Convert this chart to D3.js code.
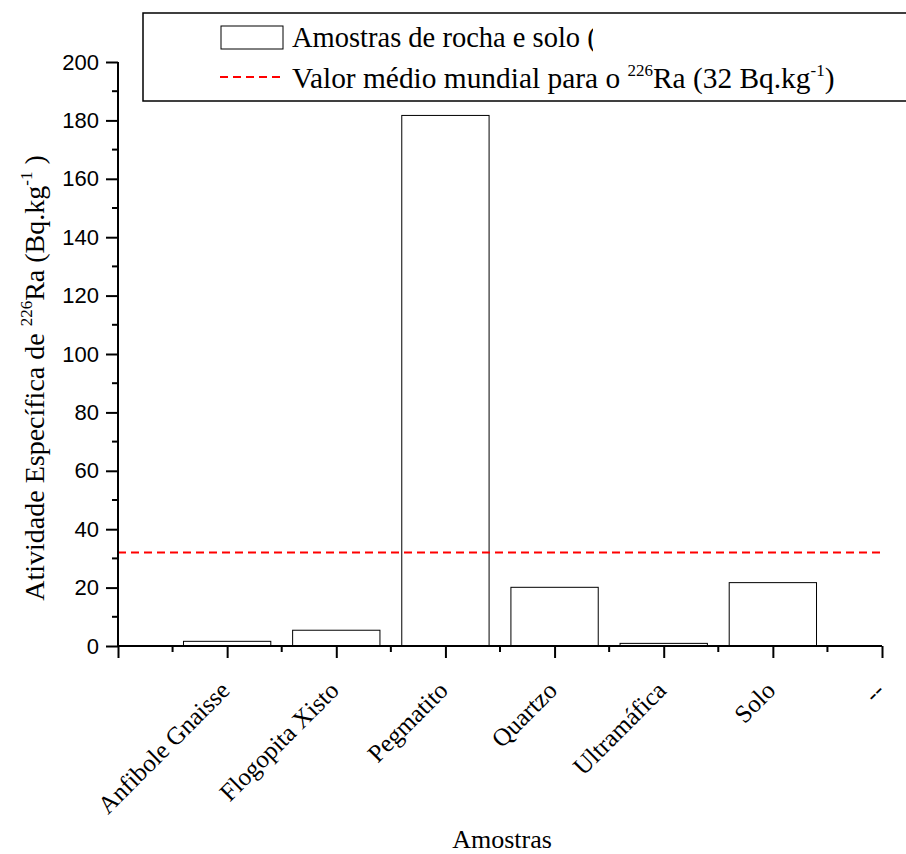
<!DOCTYPE html>
<html>
<head>
<meta charset="utf-8">
<script src="https://cdn.jsdelivr.net/npm/d3@7/dist/d3.min.js"></script>
<style>
  html, body { margin: 0; padding: 0; background: #fff; }
  svg { display: block; }
</style>
</head>
<body>
<svg id="chart" width="906" height="854"></svg>
<script>
// Sample names and their 226Ra specific activity (Bq/kg)
const samples = ["Anfibole Gnaisse", "Flogopita Xisto", "Pegmatito", "Quartzo", "Ultramáfica", "Solo"];
const activity = [1.6, 5.4, 181.7, 20.1, 0.9, 21.7];
// Category axis labels (last slot is an empty placeholder)
const xTickLabels = ["Anfibole Gnaisse", "Flogopita Xisto", "Pegmatito", "Quartzo", "Ultramáfica", "Solo", "--"];
// Y axis ticks
const yMajorTicks = [0, 20, 40, 60, 80, 100, 120, 140, 160, 180, 200];
const yMinorTicks = [10, 30, 50, 70, 90, 110, 130, 150, 170, 190];
// World average reference for 226Ra
const worldAverage = [32];

const SERIF = "'Liberation Serif', 'Times New Roman', serif";
const SANS = "'Liberation Sans', Arial, sans-serif";

const svg = d3.select("#chart");
const plot = { left: 118, right: 882, top: 62, bottom: 646 };

const x = d3.scaleLinear().domain([0, xTickLabels.length]).range([plot.left, plot.right]);
const y = d3.scaleLinear().domain([0, 200]).range([plot.bottom, plot.top]);
const barWidth = 0.8;

// Bars
svg.append("g")
  .selectAll("rect")
  .data(activity)
  .join("rect")
  .attr("x", (d, i) => x(i + 1 - barWidth / 2))
  .attr("width", x(barWidth) - x(0))
  .attr("y", d => y(d))
  .attr("height", d => y(0) - y(d))
  .attr("fill", "#fff")
  .attr("stroke", "#000")
  .attr("stroke-width", 1);

// World average dashed line
svg.append("g")
  .selectAll("line")
  .data(worldAverage)
  .join("line")
  .attr("x1", plot.left).attr("x2", plot.right)
  .attr("y1", d => y(d)).attr("y2", d => y(d))
  .attr("stroke", "#ff0000")
  .attr("stroke-width", 2)
  .attr("stroke-dasharray", "8,5");

// Y axis
const yAxis = svg.append("g").attr("transform", `translate(${plot.left},0)`);
yAxis.call(d3.axisLeft(y).tickValues(yMajorTicks).tickSize(12).tickPadding(7).tickFormat(d3.format("d")));
yAxis.append("g").selectAll("line").data(yMinorTicks).join("line")
  .attr("x1", -6).attr("x2", 0).attr("y1", d => y(d)).attr("y2", d => y(d))
  .attr("stroke", "#000").attr("stroke-width", 2);
yAxis.select(".domain").attr("d", `M0,${plot.bottom}V${plot.top}`).attr("stroke-width", 2);
yAxis.selectAll(".tick line").attr("stroke-width", 2);
yAxis.selectAll(".tick text").attr("font-family", SANS).attr("font-size", 22).attr("fill", "#000");

// X axis
const xMajor = d3.range(0, xTickLabels.length + 1);
const xMinor = d3.range(0, xTickLabels.length).map(i => i + 0.5);
const xAxis = svg.append("g").attr("transform", `translate(0,${plot.bottom})`);
xAxis.call(d3.axisBottom(x).tickValues(xMajor).tickSize(12).tickFormat(""));
xAxis.select(".domain").attr("d", `M${plot.left},0H${plot.right}`).attr("stroke-width", 2);
xAxis.selectAll(".tick line").attr("stroke-width", 2);
xAxis.append("g").selectAll("line").data(xMinor).join("line")
  .attr("x1", d => x(d)).attr("x2", d => x(d)).attr("y1", 0).attr("y2", 6)
  .attr("stroke", "#000").attr("stroke-width", 2);

// Rotated category labels
svg.append("g").selectAll("text")
  .data(xTickLabels)
  .join("text")
  .attr("transform", (d, i) => `translate(${x(i + 1) + 4},692) rotate(-45)`)
  .attr("text-anchor", "end")
  .attr("font-family", SERIF)
  .attr("font-size", 25)
  .attr("fill", "#000")
  .text(d => d);

// Axis titles
svg.append("text")
  .attr("x", (plot.left + plot.right) / 2 + 2)
  .attr("y", 848)
  .attr("text-anchor", "middle")
  .attr("font-family", SERIF)
  .attr("font-size", 26)
  .attr("fill", "#000")
  .text("Amostras");

const yTitle = svg.append("text")
  .attr("transform", "translate(44,378) rotate(-90)")
  .attr("text-anchor", "middle")
  .attr("font-family", SERIF)
  .attr("font-size", 28)
  .attr("fill", "#000");
yTitle.append("tspan").text("Atividade Específica de ");
yTitle.append("tspan").attr("font-size", 17).attr("dy", -12).text("226");
yTitle.append("tspan").attr("dy", 12).text("Ra (Bq.kg");
yTitle.append("tspan").attr("font-size", 17).attr("dy", -12).text("-1");
yTitle.append("tspan").attr("dy", 12).text(" )");

// Legend
const legend = svg.append("g");
legend.append("rect")
  .attr("x", 143).attr("y", 13).attr("width", 800).attr("height", 88)
  .attr("fill", "none").attr("stroke", "#000").attr("stroke-width", 1.5);
legend.append("rect")
  .attr("x", 221).attr("y", 26).attr("width", 62).attr("height", 23)
  .attr("fill", "#fff").attr("stroke", "#000").attr("stroke-width", 1);
svg.append("defs").append("clipPath").attr("id", "legendClip")
  .append("rect").attr("x", 280).attr("y", 15).attr("width", 313).attr("height", 40);
legend.append("text")
  .attr("x", 292).attr("y", 47)
  .attr("clip-path", "url(#legendClip)")
  .attr("font-family", SERIF).attr("font-size", 28.5).attr("fill", "#000")
  .text("Amostras de rocha e solo (");
legend.append("line")
  .attr("x1", 220).attr("x2", 283).attr("y1", 77).attr("y2", 77)
  .attr("stroke", "#ff0000").attr("stroke-width", 2).attr("stroke-dasharray", "8,5");
const lt = legend.append("text")
  .attr("x", 292).attr("y", 88)
  .attr("font-family", SERIF).attr("font-size", 29.4).attr("fill", "#000");
lt.append("tspan").text("Valor médio mundial para o ");
lt.append("tspan").attr("font-size", 17).attr("dy", -12).text("226");
lt.append("tspan").attr("dy", 12).text("Ra (32 Bq.kg");
lt.append("tspan").attr("font-size", 17).attr("dy", -12).text("-1");
lt.append("tspan").attr("dy", 12).text(")");
</script>
</body>
</html>
